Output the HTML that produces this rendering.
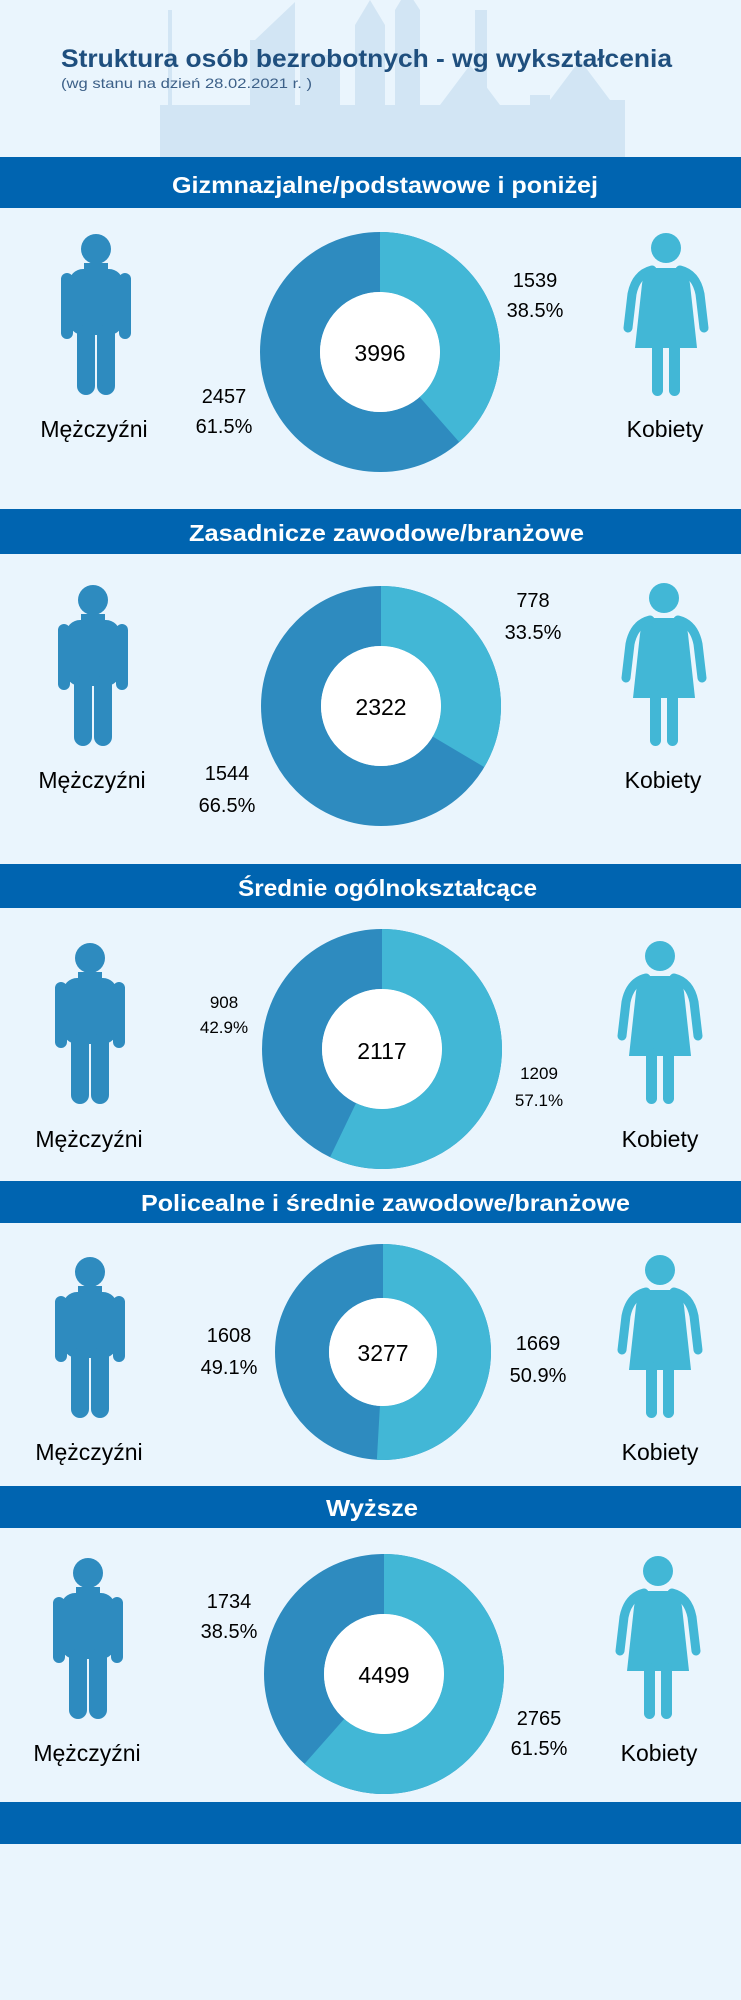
<!DOCTYPE html>
<html><head><meta charset="utf-8"><style>
html,body{margin:0;padding:0;background:#eaf5fd;}
svg{display:block;}
text{font-family:"Liberation Sans",sans-serif;}
</style></head><body>
<svg width="741" height="2000" viewBox="0 0 741 2000" xmlns="http://www.w3.org/2000/svg">
<defs>
<g id="male" fill="#2e8bbf">
  <circle cx="0" cy="16" r="15"/>
  <rect x="-27" y="36" width="54" height="66" rx="14"/>
  <rect x="-35" y="40" width="12" height="66" rx="6"/>
  <rect x="23" y="40" width="12" height="66" rx="6"/>
  <rect x="-19" y="92" width="18" height="70" rx="9"/>
  <rect x="1" y="92" width="18" height="70" rx="9"/>
  <rect x="-12" y="30" width="24" height="10"/>
</g>
<g id="female" fill="#42b7d6">
  <circle cx="0" cy="16" r="15"/>
  <path d="M-12,36 L12,36 Q22,37 24,52 L31,116 L-31,116 L-24,52 Q-22,37 -12,36Z"/>
  <path d="M-14,38 Q-30,42 -34,62 L-38,96" fill="none" stroke="#42b7d6" stroke-width="9" stroke-linecap="round"/>
  <path d="M14,38 Q30,42 34,62 L38,96" fill="none" stroke="#42b7d6" stroke-width="9" stroke-linecap="round"/>
  <rect x="-14" y="108" width="11" height="56" rx="5.5"/>
  <rect x="3" y="108" width="11" height="56" rx="5.5"/>
</g>
</defs>
<rect width="741" height="2000" fill="#eaf5fd"/>
<!-- skyline -->
<g fill="#cde2f2" opacity="0.8">
  <rect x="160" y="105" width="300" height="52"/>
  <rect x="168" y="10" width="4" height="100"/>
  <rect x="250" y="40" width="45" height="117"/>
  <polygon points="255,40 295,2 295,40"/>
  <rect x="300" y="55" width="40" height="102"/>
  <rect x="355" y="25" width="30" height="132"/>
  <polygon points="355,25 370,0 385,25"/>
  <rect x="395" y="10" width="25" height="147"/>
  <polygon points="395,10 407,-10 420,10"/>
  <rect x="440" y="105" width="90" height="52"/>
  <polygon points="440,105 470,65 500,105"/>
  <rect x="475" y="10" width="12" height="95"/>
  <rect x="535" y="100" width="90" height="57"/>
  <polygon points="550,100 580,60 610,100"/>
  <rect x="530" y="95" width="20" height="62"/>
</g>
<!-- title -->
<text x="61" y="67" font-size="25" font-weight="bold" fill="#1f4f7e" textLength="611" lengthAdjust="spacingAndGlyphs">Struktura osób bezrobotnych - wg wykształcenia</text>
<text x="61" y="88" font-size="14" fill="#3c6088" textLength="251" lengthAdjust="spacingAndGlyphs">(wg stanu na dzień 28.02.2021 r. )</text>

<g font-weight="bold" fill="#fff" font-size="23">
<rect x="0" y="157" width="741" height="51" fill="#0064b0"/>
<text x="172" y="193" textLength="426" lengthAdjust="spacingAndGlyphs">Gizmnazjalne/podstawowe i poniżej</text>
<rect x="0" y="509" width="741" height="45" fill="#0064b0"/>
<text x="189" y="541" textLength="395" lengthAdjust="spacingAndGlyphs">Zasadnicze zawodowe/branżowe</text>
<rect x="0" y="864" width="741" height="44" fill="#0064b0"/>
<text x="238" y="896" textLength="299" lengthAdjust="spacingAndGlyphs">Średnie ogólnokształcące</text>
<rect x="0" y="1181" width="741" height="42" fill="#0064b0"/>
<text x="141" y="1211" textLength="489" lengthAdjust="spacingAndGlyphs">Policealne i średnie zawodowe/branżowe</text>
<rect x="0" y="1486" width="741" height="42" fill="#0064b0"/>
<text x="326" y="1516" textLength="92" lengthAdjust="spacingAndGlyphs">Wyższe</text>
<rect x="0" y="1802" width="741" height="42" fill="#0064b0"/>
</g>

<!-- donuts -->
<g fill="none">
<circle cx="380" cy="352" r="90" stroke="#2e8bbf" stroke-width="60"/>
<circle cx="380" cy="352" r="90" stroke="#42b7d6" stroke-width="60" stroke-dasharray="217.7 1000" transform="rotate(-90 380 352)"/>
<circle cx="381" cy="706" r="90" stroke="#2e8bbf" stroke-width="60"/>
<circle cx="381" cy="706" r="90" stroke="#42b7d6" stroke-width="60" stroke-dasharray="189.4 1000" transform="rotate(-90 381 706)"/>
<circle cx="382" cy="1049" r="90" stroke="#2e8bbf" stroke-width="60"/>
<circle cx="382" cy="1049" r="90" stroke="#42b7d6" stroke-width="60" stroke-dasharray="322.9 1000" transform="rotate(-90 382 1049)"/>
<circle cx="383" cy="1352" r="81" stroke="#2e8bbf" stroke-width="54"/>
<circle cx="383" cy="1352" r="81" stroke="#42b7d6" stroke-width="54" stroke-dasharray="259.0 1000" transform="rotate(-90 383 1352)"/>
<circle cx="384" cy="1674" r="90" stroke="#2e8bbf" stroke-width="60"/>
<circle cx="384" cy="1674" r="90" stroke="#42b7d6" stroke-width="60" stroke-dasharray="347.8 1000" transform="rotate(-90 384 1674)"/>
</g>
<g fill="#fff">
<circle cx="380" cy="352" r="60"/><circle cx="381" cy="706" r="60"/><circle cx="382" cy="1049" r="60"/><circle cx="383" cy="1352" r="54"/><circle cx="384" cy="1674" r="60"/>
</g>

<!-- icons -->
<use href="#male" x="96" y="233"/>
<use href="#female" x="666" y="232"/>
<use href="#male" x="93" y="584"/>
<use href="#female" x="664" y="582"/>
<use href="#male" x="90" y="942"/>
<use href="#female" x="660" y="940"/>
<use href="#male" x="90" y="1256"/>
<use href="#female" x="660" y="1254"/>
<use href="#male" x="88" y="1557"/>
<use href="#female" x="658" y="1555"/>

<!-- labels -->
<g fill="#000" text-anchor="middle" font-size="20">
<text x="94" y="437" font-size="23">Mężczyźni</text><text x="665" y="437" font-size="23">Kobiety</text>
<text x="380" y="361" font-size="23">3996</text>
<text x="535" y="287">1539</text><text x="535" y="317">38.5%</text>
<text x="224" y="403">2457</text><text x="224" y="433">61.5%</text>

<text x="92" y="788" font-size="23">Mężczyźni</text><text x="663" y="788" font-size="23">Kobiety</text>
<text x="381" y="715" font-size="23">2322</text>
<text x="533" y="607">778</text><text x="533" y="639">33.5%</text>
<text x="227" y="780">1544</text><text x="227" y="812">66.5%</text>

<text x="89" y="1147" font-size="23">Mężczyźni</text><text x="660" y="1147" font-size="23">Kobiety</text>
<text x="382" y="1059" font-size="23">2117</text>
<text x="224" y="1008" font-size="17">908</text><text x="224" y="1033" font-size="17">42.9%</text>
<text x="539" y="1079" font-size="17">1209</text><text x="539" y="1106" font-size="17">57.1%</text>

<text x="89" y="1460" font-size="23">Mężczyźni</text><text x="660" y="1460" font-size="23">Kobiety</text>
<text x="383" y="1361" font-size="23">3277</text>
<text x="229" y="1342">1608</text><text x="229" y="1374">49.1%</text>
<text x="538" y="1350">1669</text><text x="538" y="1382">50.9%</text>

<text x="87" y="1761" font-size="23">Mężczyźni</text><text x="659" y="1761" font-size="23">Kobiety</text>
<text x="384" y="1683" font-size="23">4499</text>
<text x="229" y="1608">1734</text><text x="229" y="1638">38.5%</text>
<text x="539" y="1725">2765</text><text x="539" y="1755">61.5%</text>
</g>
</svg>
</body></html>
